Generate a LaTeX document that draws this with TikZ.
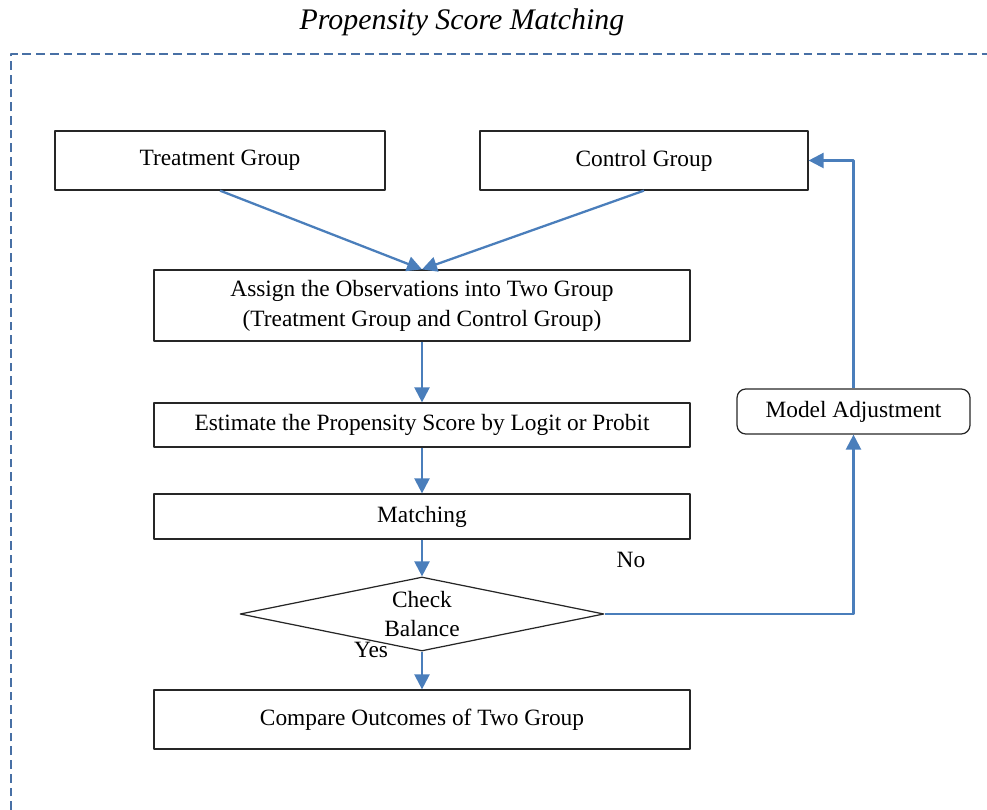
\documentclass[tikz,border=0pt]{standalone}
\usepackage{fontspec}
\setmainfont{Liberation Serif}
\usetikzlibrary{arrows.meta,shapes.geometric}
\definecolor{flowblue}{RGB}{74,126,187}
\definecolor{frameblue}{RGB}{72,112,165}

\begin{document}
\begin{tikzpicture}[x=0.02cm,y=-0.02cm,>={Triangle[length=8.5pt,width=8.5pt]},line join=round,
  box/.style={draw=black!85,line width=0.7pt,inner sep=0pt,align=center,
    font=\fontsize{13.3}{17}\selectfont},
  flow/.style={->,draw=flowblue,line width=1.3pt}]

\useasboundingbox (0,0) rectangle (987,810);

%% ---------------- frame and title ----------------
\draw[frameblue,line width=0.6pt,dash pattern=on 5pt off 2.8pt] (11,810) -- (11,54) -- (987,54);
\node[font=\fontsize{17}{19}\selectfont\itshape] (title) at (462,22) {Propensity Score Matching};

%% ---------------- the steps ----------------
\node[box,minimum width=6.6cm,minimum height=1.18cm] (treat) at (220,160.5) {Treatment Group};
\node[box,minimum width=6.56cm,minimum height=1.18cm] (control) at (644,160.5) {Control Group};
\node[box,minimum width=10.72cm,minimum height=1.42cm] (assign) at (422,305.5)
  {Assign the Observations into Two Group\\(Treatment Group and Control Group)};
\node[box,minimum width=10.72cm,minimum height=0.88cm] (estimate) at (422,425)
  {Estimate the Propensity Score by Logit or Probit};
\node[box,minimum width=10.72cm,minimum height=0.9cm] (matching) at (422,516.5) {Matching};
\node[box,diamond,aspect=4.9,minimum width=7.28cm,minimum height=1.48cm] (check) at (422,614)
  {Check\\Balance};
\node[box,minimum width=10.72cm,minimum height=1.18cm] (compare) at (422,719.5)
  {Compare Outcomes of Two Group};
\node[box,rounded corners=5pt,minimum width=4.66cm,minimum height=0.9cm] (model) at (853.5,411.5)
  {Model Adjustment};

%% ---------------- branch labels ----------------
\node[font=\fontsize{13.3}{15}\selectfont] (no) at (631,560) {No};
\node[font=\fontsize{13.3}{15}\selectfont] (yes) at (371,650) {Yes};

%% ---------------- connectors ----------------
\draw[flow] (treat.south) -- (assign.north);
\draw[flow] (control.south) -- (assign.north);
\draw[flow] (assign) -- (estimate);
\draw[flow] (estimate) -- (matching);
\draw[flow] (matching) -- (check);
\draw[flow] (check) -- (compare);
\draw[flow] (check.east) -| (model.south);
\draw[flow] (model.north) |- (control.east);

\end{tikzpicture}
\end{document}
